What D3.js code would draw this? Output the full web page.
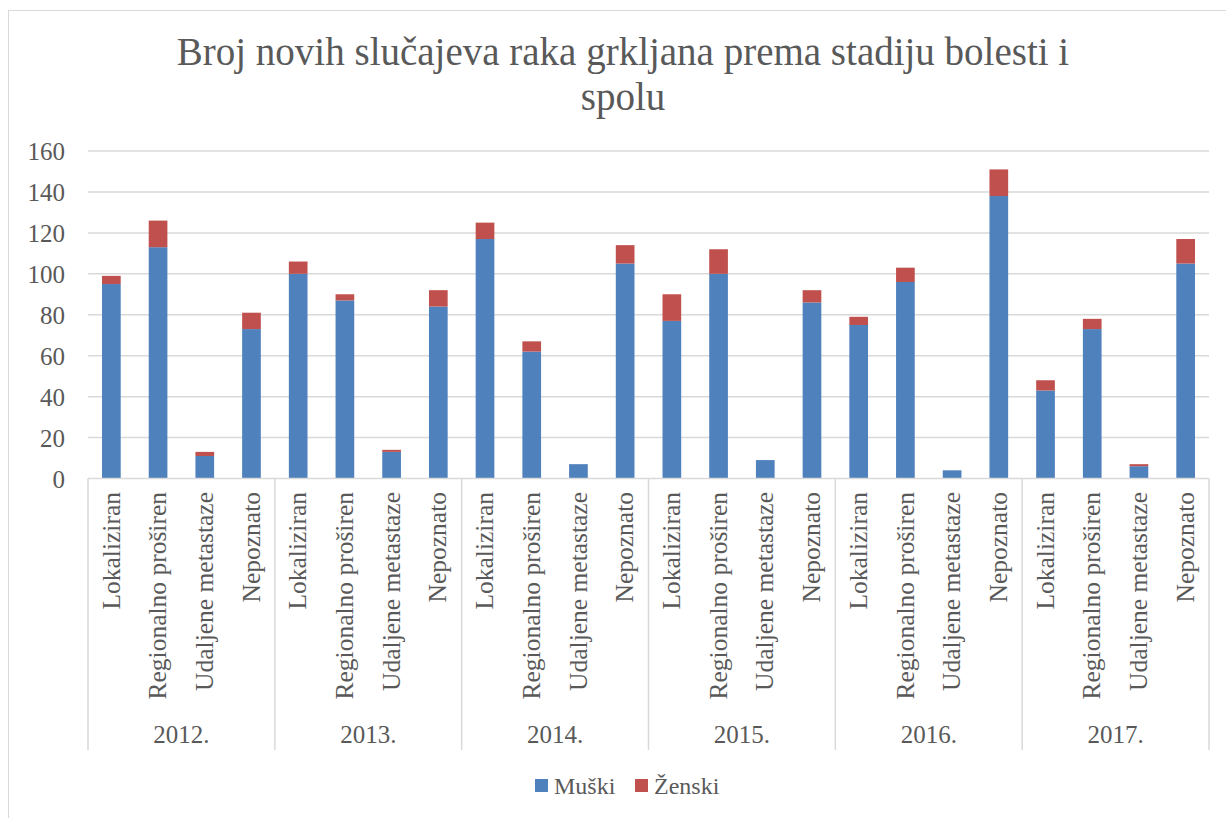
<!DOCTYPE html>
<html>
<head>
<meta charset="utf-8">
<script src="https://cdn.jsdelivr.net/npm/d3@7"></script>
<style>
  html, body { margin: 0; padding: 0; background: #fff; }
  svg { display: block; }
  text { font-family: "Liberation Serif", "Times New Roman", serif; fill: #595959; }
</style>
</head>
<body>
<svg id="chart" width="1226" height="818"></svg>
<script>
// ---- Data ----
const years = ["2012.", "2013.", "2014.", "2015.", "2016.", "2017."];
const stages = ["Lokaliziran", "Regionalno proširen", "Udaljene metastaze", "Nepoznato"];
const seriesNames = ["Muški", "Ženski"];
// values ordered year by year, stage by stage
const muski = [95, 113, 11, 73,  100, 87, 13, 84,  117, 62, 7, 105,  77, 100, 9, 86,  75, 96, 4, 138,  43, 73, 6, 105];
const zenski = [4, 13, 2, 8,  6, 3, 1, 8,  8, 5, 0, 9,  13, 12, 0, 6,  4, 7, 0, 13,  5, 5, 1, 12];
const yTicks = [0, 20, 40, 60, 80, 100, 120, 140, 160];
const titleLines = ["Broj novih slučajeva raka grkljana prema stadiju bolesti i", "spolu"];
const colors = ["#4F81BD", "#C0504D"];

// build table
const rows = [];
years.forEach((yr, i) => stages.forEach((st, j) => {
  const k = i * stages.length + j;
  rows.push({ year: yr, stage: st, "Muški": muski[k], "Ženski": zenski[k] });
}));

const svg = d3.select("#chart");

// outer border
svg.append("rect").attr("x", 8.5).attr("y", 10.5).attr("width", 1240).attr("height", 840)
  .attr("fill", "none").attr("stroke", "#D9D9D9").attr("stroke-width", 1);

const left = 88, right = 1209, y0 = 478.5, yTop = 151;

const x0 = d3.scaleBand().domain(years).range([left, right]).padding(0);
const x1 = d3.scaleBand().domain(stages).range([0, x0.bandwidth()]).paddingInner(0.6).paddingOuter(0.3);
const y = d3.scaleLinear().domain([0, 160]).range([y0, yTop]);

// gridlines
svg.append("g").selectAll("line").data(yTicks.filter(t => t > 0)).join("line")
  .attr("x1", left).attr("x2", right)
  .attr("y1", d => y(d)).attr("y2", d => y(d))
  .attr("stroke", "#D9D9D9").attr("stroke-width", 1.5);

// y axis labels
const yAxis = d3.axisLeft(y).tickValues(yTicks).tickSize(0).tickPadding(0);
const gy = svg.append("g").attr("transform", `translate(65,0)`).call(yAxis);
gy.select(".domain").remove();
gy.selectAll("text").attr("font-size", 25).attr("fill", "#595959")
  .style("font-family", '"Liberation Serif", serif').attr("dy", "0.34em").attr("x", 0);

// stacked bars
const stack = d3.stack().keys(seriesNames);
const stacked = stack(rows);
svg.append("g").selectAll("g").data(stacked).join("g")
  .attr("fill", (d, i) => colors[i])
  .selectAll("rect").data(d => d).join("rect")
  .attr("x", d => x0(d.data.year) + x1(d.data.stage))
  .attr("width", x1.bandwidth())
  .attr("y", d => y(d[1]))
  .attr("height", d => y(d[0]) - y(d[1]));

// x axis baseline
svg.append("line").attr("x1", left).attr("x2", right).attr("y1", y0).attr("y2", y0)
  .attr("stroke", "#D9D9D9").attr("stroke-width", 1.5);

// group separators
const seps = years.map(yr => x0(yr)).concat([right]);
svg.append("g").selectAll("line").data(seps).join("line")
  .attr("x1", d => d).attr("x2", d => d).attr("y1", y0).attr("y2", 750)
  .attr("stroke", "#D9D9D9").attr("stroke-width", 1.5);

// category labels (rotated)
svg.append("g").selectAll("text").data(rows).join("text")
  .attr("transform", d => `translate(${x0(d.year) + x1(d.stage) + x1.bandwidth() / 2}, 492) rotate(-90)`)
  .attr("text-anchor", "end").attr("dy", "0.32em")
  .attr("font-size", 25.5)
  .text(d => d.stage);

// year labels
svg.append("g").selectAll("text").data(years).join("text")
  .attr("x", d => x0(d) + x0.bandwidth() / 2).attr("y", 743)
  .attr("text-anchor", "middle").attr("font-size", 25)
  .text(d => d);

// title
svg.append("g").selectAll("text").data(titleLines).join("text")
  .attr("x", 623).attr("y", (d, i) => 65 + i * 45)
  .attr("text-anchor", "middle").attr("font-size", 39)
  .text(d => d);

// legend
const legX = [535, 635];
const leg = svg.append("g").selectAll("g").data(seriesNames).join("g")
  .attr("transform", (d, i) => `translate(${legX[i]},779)`);
leg.append("rect").attr("width", 13).attr("height", 13).attr("fill", (d, i) => colors[i]);
leg.append("text").attr("x", 19).attr("y", 6.5).attr("dy", "0.34em").attr("font-size", 24).text(d => d);
</script>
</body>
</html>
